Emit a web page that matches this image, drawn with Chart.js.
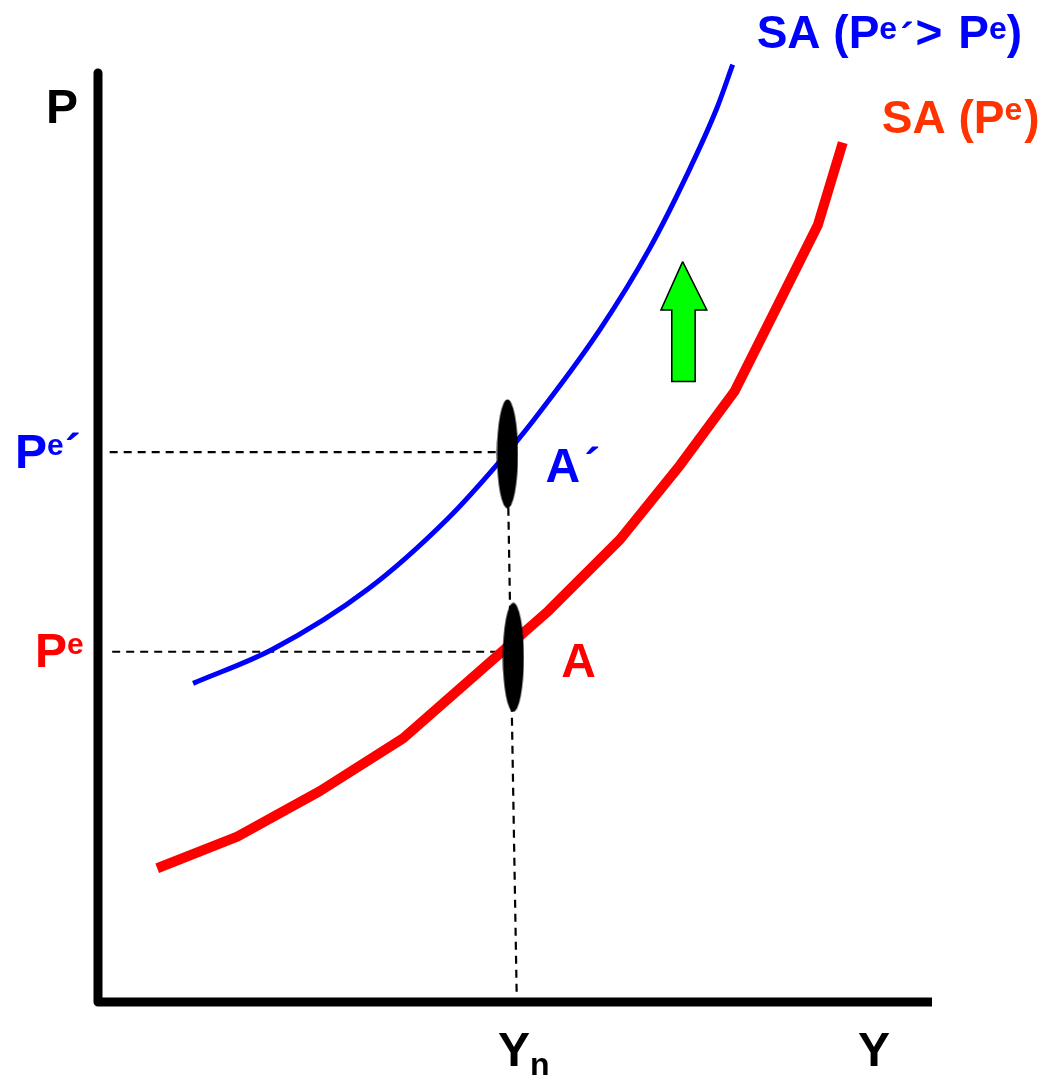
<!DOCTYPE html>
<html>
<head>
<meta charset="utf-8">
<script src="https://cdn.jsdelivr.net/npm/chart.js@4/dist/chart.umd.min.js"></script>
<style>
  html, body { margin: 0; padding: 0; background: #ffffff; }
  #wrap { width: 1045px; height: 1080px; position: relative; }
</style>
</head>
<body>
<div id="wrap"><canvas id="chart"></canvas></div>
<script>
// Short-run aggregate supply, output Y vs price level P (model units 0-100)
const saPeY      = [7.1, 16.7, 26.6, 36.6, 54.0, 62.6, 69.8, 76.3, 81.4, 86.3, 89.3];
const saPeP      = [14.4, 17.8, 22.7, 28.4, 42.1, 49.8, 57.8, 65.7, 74.8, 83.6, 92.5];
const saPePrimeY = [11.4, 21.0, 32.3, 41.9, 47.8, 52.2, 60.2, 66.2, 70.6, 74.2, 76.1];
const saPePrimeP = [34.3, 38.0, 44.4, 52.0, 57.8, 62.6, 72.4, 81.2, 89.0, 96.2, 100.9];

// Natural output and expected price levels
const Y_N = 50;
const P_E = 37.7;
const P_E_PRIME = 59.2;

// Equilibrium points A and A'
const pointA      = [49.8, 37.1];
const pointAPrime = [49.1, 59.0];

// Guide lines
const peGuideY      = [1.7, 49.8];
const pePrimeGuideY = [1.4, 49.1];
const ynGuideY      = [49.2, 50.2];
const ynGuideP      = [53.2, 0.9];

// Axes (L shape) and upward shift arrow
const axisY  = [0, 0, 100];
const axisP  = [100, 0, 0];
const arrowY = [70.1, 73.0, 71.6, 71.6, 68.8, 68.8, 67.5, 70.1];
const arrowP = [79.7, 74.5, 74.5, 66.8, 66.8, 74.5, 74.5, 79.7];

const zip = (xs, ys) => xs.map((v, i) => ({ x: v, y: ys[i] }));
const flat = (xs, p) => xs.map(v => ({ x: v, y: p }));

// Tall black ellipse used as the marker for A and A'
const dot = document.createElement('canvas');
dot.width = 22; dot.height = 110;
{
  const g = dot.getContext('2d');
  g.fillStyle = '#000000';
  g.beginPath();
  g.ellipse(11, 55, 10.5, 54.5, 0, 0, Math.PI * 2);
  g.fill();
}

const FONT = '"Liberation Sans", Arial, Helvetica, sans-serif';

function drawRich(ctx, x, y, parts, color) {
  let cx = x;
  ctx.fillStyle = color;
  ctx.textAlign = 'left';
  ctx.textBaseline = 'alphabetic';
  for (const p of parts) {
    ctx.font = 'bold ' + p.size + 'px ' + FONT;
    ctx.fillText(p.t, cx, y - (p.rise || 0));
    cx += ctx.measureText(p.t).width + (p.gap || 0);
  }
}

const labelPlugin = {
  id: 'diagramLabels',
  afterDatasetsDraw(chart) {
    const { ctx, scales: { x, y } } = chart;
    ctx.save();
    const BLUE = '#0000ff', RED = '#ff0000', ORANGE = '#ff3300', BLACK = '#000000';
    const X0 = x.getPixelForValue(0), Y0 = y.getPixelForValue(0), YT = y.getPixelForValue(100);

    // Axis names
    drawRich(ctx, X0 - 52, YT + 50, [{ t: 'P', size: 48 }], BLACK);
    drawRich(ctx, x.getPixelForValue(100) - 74, Y0 + 64, [{ t: 'Y', size: 48 }], BLACK);
    drawRich(ctx, x.getPixelForValue(Y_N) - 17, Y0 + 64,
      [{ t: 'Y', size: 48 }, { t: 'n', size: 32, rise: -9 }], BLACK);

    // Price level ticks
    const pp = y.getPixelForValue(P_E_PRIME);
    drawRich(ctx, X0 - 83, pp + 16,
      [{ t: 'P', size: 48 }, { t: 'e', size: 30, rise: 13, gap: 1 }, { t: '\u00B4', size: 48 }], BLUE);
    const pe = y.getPixelForValue(P_E);
    drawRich(ctx, X0 - 63, pe + 15,
      [{ t: 'P', size: 48 }, { t: 'e', size: 30, rise: 13 }], RED);

    // Point labels
    drawRich(ctx, x.getPixelForValue(pointAPrime[0]) + 38, y.getPixelForValue(pointAPrime[1]) + 28,
      [{ t: 'A', size: 48, gap: 4 }, { t: '\u00B4', size: 48 }], BLUE);
    drawRich(ctx, x.getPixelForValue(pointA[0]) + 48, y.getPixelForValue(pointA[1]) + 20,
      [{ t: 'A', size: 48 }], RED);

    // Curve labels
    const bEnd = saPePrimeY.length - 1;
    drawRich(ctx, x.getPixelForValue(saPePrimeY[bEnd]) + 24, y.getPixelForValue(saPePrimeP[bEnd]) - 17,
      [{ t: 'SA (P', size: 46 }, { t: 'e', size: 32, rise: 9, gap: 3 }, { t: '\u00B4', size: 40, rise: -4, gap: 2 },
       { t: '>', size: 46, gap: 16 }, { t: 'P', size: 46 },
       { t: 'e', size: 32, rise: 9 }, { t: ')', size: 46 }], BLUE);
    const rEnd = saPeY.length - 1;
    drawRich(ctx, x.getPixelForValue(saPeY[rEnd]) + 39, y.getPixelForValue(saPeP[rEnd]) - 10,
      [{ t: 'SA (P', size: 46 }, { t: 'e', size: 32, rise: 13, gap: 2 }, { t: ')', size: 46 }], ORANGE);
    ctx.restore();
  }
};

const dashed = { borderColor: '#000000', borderWidth: 2.2, borderDash: [8, 6], showLine: true, pointRadius: 0, clip: false };

new Chart(document.getElementById('chart'), {
  type: 'scatter',
  data: {
    datasets: [
      { label: 'A\u00B4', data: [{ x: pointAPrime[0], y: pointAPrime[1] }], pointStyle: dot, pointRadius: 5, clip: false },
      { label: 'A', data: [{ x: pointA[0], y: pointA[1] }], pointStyle: dot, pointRadius: 5, clip: false },
      { label: 'SA (Pe\u00B4 > Pe)', data: zip(saPePrimeY, saPePrimeP), showLine: true, borderColor: '#0000ff',
        borderWidth: 5, cubicInterpolationMode: 'monotone', pointRadius: 0, clip: false, borderCapStyle: 'butt' },
      { label: 'SA (Pe)', data: zip(saPeY, saPeP), showLine: true, borderColor: '#ff0000',
        borderWidth: 10, tension: 0, pointRadius: 0, clip: false, borderCapStyle: 'butt', borderJoinStyle: 'round' },
      Object.assign({ label: 'Pe\u00B4 guide', data: flat(pePrimeGuideY, P_E_PRIME) }, dashed),
      Object.assign({ label: 'Pe guide', data: flat(peGuideY, P_E) }, dashed),
      Object.assign({ label: 'Yn guide', data: zip(ynGuideY, ynGuideP) }, dashed),
      { label: 'shift', data: zip(arrowY, arrowP), showLine: true, fill: 'shape', backgroundColor: '#00ff00',
        borderColor: '#000000', borderWidth: 1.5, borderJoinStyle: 'miter', pointRadius: 0, tension: 0 },
      { label: 'axes', data: zip(axisY, axisP), showLine: true, borderColor: '#000000', borderWidth: 9,
        borderJoinStyle: 'round', borderCapStyle: 'butt', pointRadius: 0, tension: 0, clip: false }
    ]
  },
  options: {
    responsive: true,
    maintainAspectRatio: false,
    animation: false,
    events: [],
    layout: { padding: { left: 98, right: 113, top: 73, bottom: 78 } },
    scales: {
      x: { type: 'linear', min: 0, max: 100, display: false },
      y: { type: 'linear', min: 0, max: 100, display: false }
    },
    plugins: { legend: { display: false }, tooltip: { enabled: false } }
  },
  plugins: [labelPlugin]
});
</script>
</body>
</html>
